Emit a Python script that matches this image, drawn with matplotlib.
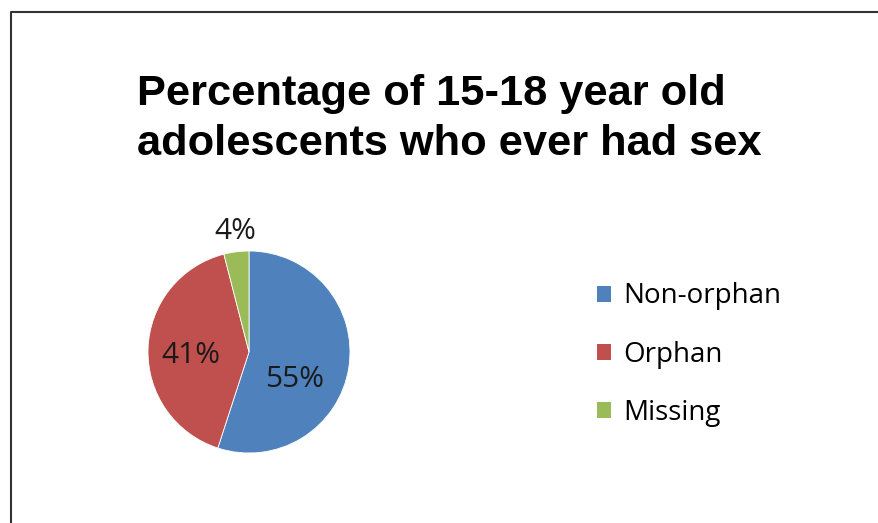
import matplotlib.pyplot as plt
from matplotlib.lines import Line2D
from matplotlib.patches import Patch

# data
groups = ['Non-orphan', 'Orphan', 'Missing']
shares = [55, 41, 4]
colours = ['#4F81BD', '#C0504D', '#9BBB59']
title = 'Percentage of 15-18 year old\nadolescents who ever had sex'

W, H = 879, 523
fig = plt.figure(figsize=(W / 100, H / 100), dpi=100)

# chart frame (only left and top edges are visible in the crop)
fig.add_artist(Line2D([10.5 / W, 10.5 / W, 1], [0, 1 - 12 / H, 1 - 12 / H],
                      transform=fig.transFigure, color='#333333', lw=1.5))

fig.text(137 / W, 1 - 74 / H, title, ha='left', va='top', multialignment='left',
         family='Liberation Sans', weight='bold', fontsize=31.2, linespacing=1.32)

# pie: centre (249, 352) px, radius 101 px
r = 101
ax = fig.add_axes([(249 - r) / W, 1 - (352 + r) / H, 2 * r / W, 2 * r / H])
wedges, texts, pcts = ax.pie(shares, colors=colours, startangle=90, counterclock=False,
                             autopct='%1.0f%%', pctdistance=0.62,
                             wedgeprops=dict(edgecolor='white', linewidth=0.6),
                             textprops=dict(family='Open Sans', fontsize=21.5, color='#1a1a1a'))
ax.set_xlim(-1, 1)
ax.set_ylim(-1, 1)
ax.set_aspect('equal')
# excel-style label placement
pcts[0].set_position((0.45, -0.275))
pcts[1].set_position((-0.58, -0.03))
pcts[2].set_position((-0.14, 1.19))

handles = [Patch(facecolor=c, edgecolor='none') for c in colours]
fig.legend(handles, groups, loc='upper left', bbox_to_anchor=(597 / W, 1 - 282.5 / H),
           frameon=False, prop=dict(family='Open Sans', size=20),
           handlelength=0.5, handleheight=0.5, handletextpad=0.45,
           labelspacing=1.09, borderaxespad=0, borderpad=0)

fig.savefig('out.png', dpi=100, facecolor='white')
